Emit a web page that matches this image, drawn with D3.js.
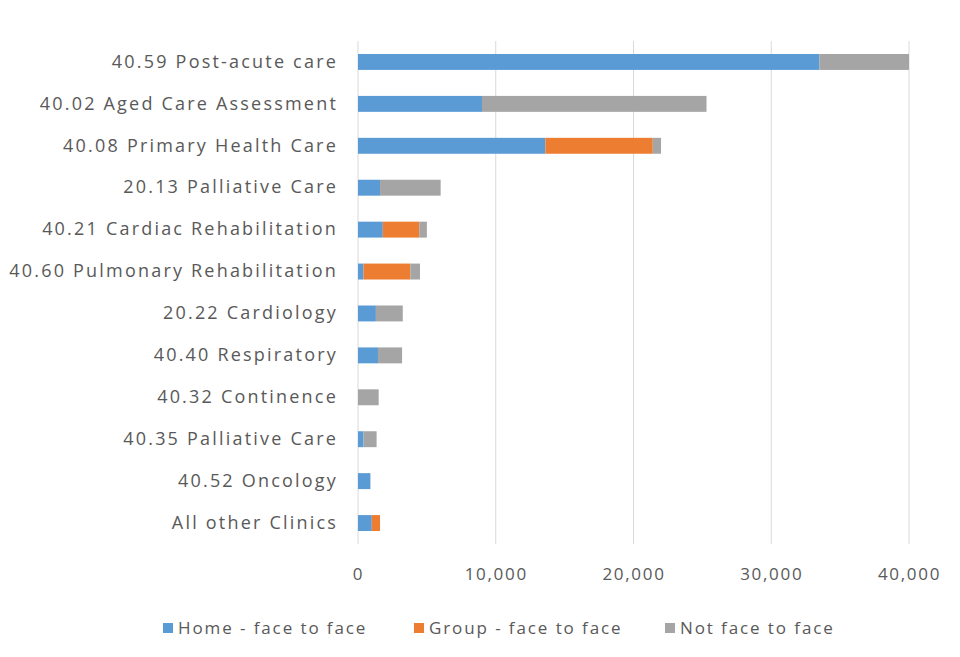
<!DOCTYPE html>
<html>
<head>
<meta charset="utf-8">
<script src="https://cdn.jsdelivr.net/npm/d3@7"></script>
<style>
  body { margin: 0; background: #fff; }
  svg text { font-family: "Open Sans", "Noto Sans", sans-serif; fill: #595959; }
</style>
</head>
<body>
<svg id="chart" width="960" height="657"></svg>
<script>
const categories = [
  '40.59 Post-acute care',
  '40.02 Aged Care Assessment',
  '40.08 Primary Health Care',
  '20.13 Palliative Care',
  '40.21 Cardiac Rehabilitation',
  '40.60 Pulmonary Rehabilitation',
  '20.22 Cardiology',
  '40.40 Respiratory',
  '40.32 Continence',
  '40.35 Palliative Care',
  '40.52 Oncology',
  'All other Clinics'
];
const homeF2F = [33500, 9000, 13600, 1600, 1800, 400, 1300, 1450, 0, 400, 900, 1000];
const groupF2F = [0, 0, 7800, 0, 2650, 3400, 0, 0, 0, 0, 0, 600];
const notF2F = [6500, 16300, 600, 4400, 550, 700, 1950, 1750, 1500, 950, 0, 0];
const seriesNames = ['Home - face to face', 'Group - face to face', 'Not face to face'];
const xTicks = [0, 10000, 20000, 30000, 40000];

const colors = ['#5B9BD5', '#ED7D31', '#A5A5A5'];

const svg = d3.select('#chart');
const margin = { top: 41, right: 51, bottom: 113, left: 358 };
const width = 960, height = 657;

const rows = categories.map((c, i) => ({
  cat: c, s0: homeF2F[i], s1: groupF2F[i], s2: notF2F[i]
}));
const stack = d3.stack().keys(['s0', 's1', 's2'])(rows);

const x = d3.scaleLinear().domain([0, 40000]).range([margin.left, width - margin.right]);
const y = d3.scaleBand().domain(categories).range([margin.top, height - margin.bottom]).paddingInner(0.62).paddingOuter(0.31);

// gridlines
svg.append('g')
  .selectAll('line')
  .data(xTicks)
  .join('line')
  .attr('x1', d => x(d)).attr('x2', d => x(d))
  .attr('y1', margin.top).attr('y2', height - margin.bottom)
  .attr('stroke', '#d9d9d9').attr('stroke-width', 1);

// bars
svg.append('g')
  .selectAll('g')
  .data(stack)
  .join('g')
  .attr('fill', (d, i) => colors[i])
  .selectAll('rect')
  .data(d => d)
  .join('rect')
  .attr('x', d => x(d[0]))
  .attr('y', d => y(d.data.cat))
  .attr('width', d => x(d[1]) - x(d[0]))
  .attr('height', y.bandwidth());

// y axis labels
const yAxis = d3.axisLeft(y).tickSize(0).tickPadding(20);
const yG = svg.append('g').attr('transform', `translate(${margin.left},0)`).call(yAxis);
yG.select('.domain').remove();
yG.selectAll('text')
  .style('font-size', '18px')
  .style('letter-spacing', '2.2px')
  .attr('fill', '#595959');

// x axis labels
const xAxis = d3.axisBottom(x).tickValues(xTicks).tickSize(0).tickPadding(24).tickFormat(d3.format(','));
const xG = svg.append('g').attr('transform', `translate(0,${height - margin.bottom})`).call(xAxis);
xG.select('.domain').remove();
xG.selectAll('text')
  .style('font-size', '17px')
  .style('letter-spacing', '1.7px')
  .attr('fill', '#595959');

// legend
const legendX = [163, 414, 665];
const lg = svg.append('g')
  .selectAll('g')
  .data(seriesNames)
  .join('g')
  .attr('transform', (d, i) => `translate(${legendX[i]},628)`);
lg.append('rect').attr('x', 0).attr('y', -5).attr('width', 10).attr('height', 10)
  .attr('fill', (d, i) => colors[i]);
lg.append('text').attr('x', 15).attr('dy', '0.35em')
  .style('font-size', '17px')
  .style('letter-spacing', '1.9px')
  .text(d => d);
</script>
</body>
</html>
